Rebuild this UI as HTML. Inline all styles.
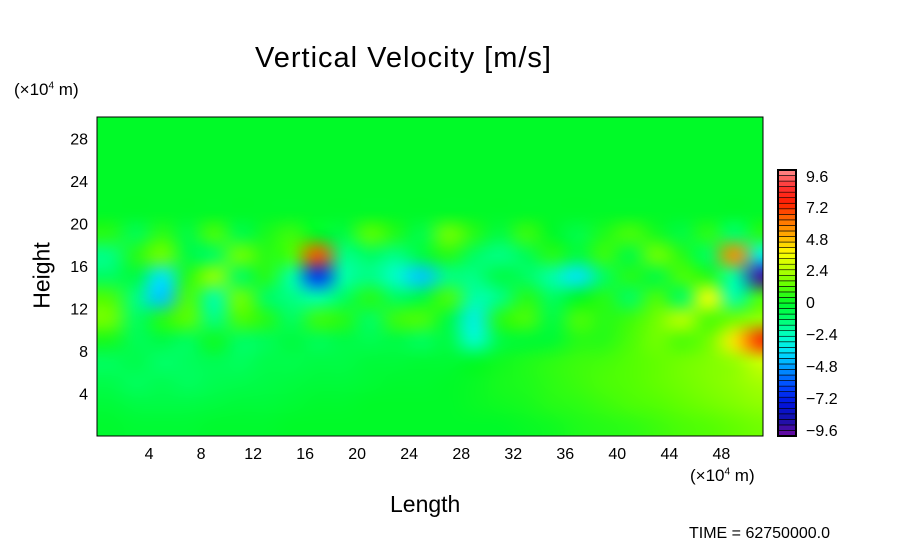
<!DOCTYPE html>
<html><head><meta charset="utf-8"><style>
body{margin:0;background:#fff;width:904px;height:544px;overflow:hidden;position:relative;font-family:"Liberation Sans",sans-serif;color:#000}
.t{position:absolute;white-space:nowrap}
</style></head><body>
<div class="t" style="left:255px;top:42px;font-size:29px;letter-spacing:1px">Vertical Velocity [m/s]</div>
<div class="t" style="left:14px;top:80px;font-size:17px">(×10<sup style="font-size:10px">4</sup> m)</div>
<div class="t" style="left:690px;top:466px;font-size:17px">(×10<sup style="font-size:10px">4</sup> m)</div>
<div class="t" style="left:4px;top:262px;font-size:23px;transform:rotate(-90deg);transform-origin:center;width:76px;text-align:center">Height</div>
<div class="t" style="left:390px;top:491px;font-size:23px">Length</div>
<div class="t" style="left:689px;top:525px;font-size:16px">TIME = 62750000.0</div>
<canvas id="field" width="666" height="319" style="position:absolute;left:97px;top:117px"></canvas>
<svg id="svg" width="904" height="544" style="position:absolute;left:0;top:0"></svg>
<script>
const xTicks=[4,8,12,16,20,24,28,32,36,40,44,48];
const yTicks=[4,8,12,16,20,24,28];
const cbLabels=[9.6,7.2,4.8,2.4,0,-2.4,-4.8,-7.2,-9.6];
const colX=[1,3,5,7,9,11,13,15,17,19,21,23,25,27,29,31,33,35,37,39,41,43,45,47,49,51];
const rowZ=[29,27,25,23,21,19,17,15,13,11,9,7,5,3,1];
const z0=[0,0,0,0,0,0,0,0,0,0,0,0,0,0,0,0,0,0,0,0,0,0,0,0,0,0];
const r19=[0.5,-0.8,0.6,-0.5,1,-0.6,0.3,0.8,0,-0.5,1.2,0.4,-0.6,1.5,0.5,-0.5,0.8,0,-0.6,0.4,1,0.3,-0.5,0.6,-1.2,0.5];
const r17=[-1.5,0.5,1.5,-0.5,-1,1.5,0.5,1,6.5,-1.5,-1,-1.5,-0.5,0.5,-1,-1.5,-0.8,0.5,-0.5,0.8,-0.5,1.5,0.5,-1,5.5,-3];
const r15=[-1,-0.5,-3.5,0.5,2,-1,0.5,-2,-6.5,-2,-1.5,-2.5,-4,-1.5,-1.5,-0.5,-1,-2,-3.5,-1,0.5,-0.5,1,0.5,-2,-9];
const r13=[1,-1.5,-4,1,-2,1.5,-1,-1.5,-2,-1,0.5,-1,-0.5,1,-2,-1.5,0.5,-1,0,0.5,-1,1,-1,3.5,-2,1];
const r11=[1.5,-1,0.5,1.2,-1.5,1,0.5,-1,0.8,0.5,-1,0.8,1,-0.5,-3,0.5,1,-0.5,1,0.5,0.8,1.5,2.5,1,1.5,2];
const r9=[0.3,-0.8,-0.5,-0.9,0.2,-1,-0.8,-0.4,-0.8,-0.5,-0.7,-0.5,-0.9,-0.5,-2.5,-0.5,-0.2,-0.2,0.5,0.5,1,1.5,1,1.5,4,7];
const r7=[-0.9,-0.6,-1.1,-0.9,-0.7,-0.9,-0.6,-0.6,-0.5,-0.5,-0.3,-0.3,-0.2,-0.2,0,0.2,0.4,0.6,0.8,0.9,1.1,1.3,1.5,1.7,2,2.8];
const r5=[-0.6,-0.9,-0.7,-0.9,-0.7,-0.6,-0.5,-0.4,-0.3,-0.3,-0.2,-0.1,-0.1,0,0.1,0.3,0.4,0.6,0.8,1,1.1,1.3,1.5,1.7,1.9,2.2];
const r3=[-0.3,-0.5,-0.5,-0.5,-0.4,-0.3,-0.3,-0.2,-0.1,-0.1,0,0,0,0,0.1,0.2,0.3,0.5,0.6,0.8,1,1.1,1.3,1.5,1.7,1.9];
const r1=[-0.1,-0.2,-0.2,-0.2,-0.1,-0.1,-0.1,0,0,0,0,0,0,0,0,0,0.1,0.2,0.4,0.5,0.6,0.8,1,1.1,1.3,1.5];
const grid=[z0,z0,z0,z0,z0,r19,r17,r15,r13,r11,r9,r7,r5,r3,r1];

const stops=[[-9.6,[110,10,160]],[-8.4,[20,16,170]],[-7.2,[0,20,225]],[-6,[0,70,255]],[-4.8,[0,145,255]],[-3.6,[0,225,255]],[-2.4,[0,255,200]],[-1.2,[0,255,110]],[0,[0,250,40]],[1.2,[90,255,0]],[2.4,[180,255,0]],[3.6,[255,255,0]],[4.8,[255,176,0]],[6,[255,112,0]],[7.2,[255,30,0]],[8.4,[255,50,50]],[9.6,[255,140,140]]];
function cmap(v){v=Math.max(-9.6,Math.min(9.6,v));for(let i=0;i<stops.length-1;i++){const a=stops[i],b=stops[i+1];if(v<=b[0]){const t=(v-a[0])/(b[0]-a[0]);return a[1].map((c,k)=>Math.round(c+(b[1][k]-c)*t));}}return stops[stops.length-1][1];}

const X0=97,X1=763,Y0=436,Y1=117,XMAX=51.2,ZMAX=30;
const sx=x=>X0+(x/XMAX)*(X1-X0), sy=z=>Y0-(z/ZMAX)*(Y0-Y1);

const small=document.createElement('canvas');small.width=colX.length;small.height=rowZ.length;
const sc=small.getContext('2d');const img=sc.createImageData(colX.length,rowZ.length);
grid.forEach((row,j)=>row.forEach((v,i)=>{const c=cmap(v),p=(j*colX.length+i)*4;img.data[p]=c[0];img.data[p+1]=c[1];img.data[p+2]=c[2];img.data[p+3]=255;}));
sc.putImageData(img,0,0);
const ctx=document.getElementById('field').getContext('2d');
ctx.imageSmoothingEnabled=true;ctx.imageSmoothingQuality='high';
const cw=(sx(2)-sx(0)), ch=(sy(0)-sy(2));
ctx.drawImage(small, sx(colX[0])-cw/2-X0, sy(rowZ[0])-ch/2-Y1, cw*colX.length, ch*rowZ.length);

const svg=document.getElementById('svg');const NS='http://www.w3.org/2000/svg';
function mk(t,a){const e=document.createElementNS(NS,t);for(const k in a)e.setAttribute(k,a[k]);svg.appendChild(e);return e;}
const frame=mk('rect',{x:X0,y:Y1,width:X1-X0,height:Y0-Y1,fill:'none',stroke:'#000','stroke-width':1});


xTicks.forEach(v=>{const t=mk('text',{x:sx(v),y:459,'font-size':16,'text-anchor':'middle','font-family':'Liberation Sans'});t.textContent=v;

});
yTicks.forEach(v=>{const t=mk('text',{x:88,y:sy(v)+6,'font-size':16,'text-anchor':'end','font-family':'Liberation Sans'});t.textContent=v;

});
const CB0=170,CB1=436,VMIN=-9.6,VMAX=9.6,NL=48;
const cy=v=>CB1-(v-VMIN)/(VMAX-VMIN)*(CB1-CB0);
for(let k=0;k<NL;k++){const lo=VMIN+k*(VMAX-VMIN)/NL,hi=lo+(VMAX-VMIN)/NL;const c=cmap((lo+hi)/2);
const r=mk('rect',{x:778,y:cy(hi),width:18,height:cy(lo)-cy(hi),fill:`rgb(${c})`,stroke:'#000','stroke-width':0.6});

}
const cbf=mk('rect',{x:778,y:CB0,width:18,height:CB1-CB0,fill:'none',stroke:'#000','stroke-width':2});


const cbPos=[176,207,239,270,302,334,366,398,430];
cbLabels.forEach((v,i)=>{const t=mk('text',{x:806,y:cbPos[i]+6,'font-size':16,'font-family':'Liberation Sans'});t.textContent=(v<0?'−'+(-v):String(v));

});
</script>
</body></html>
